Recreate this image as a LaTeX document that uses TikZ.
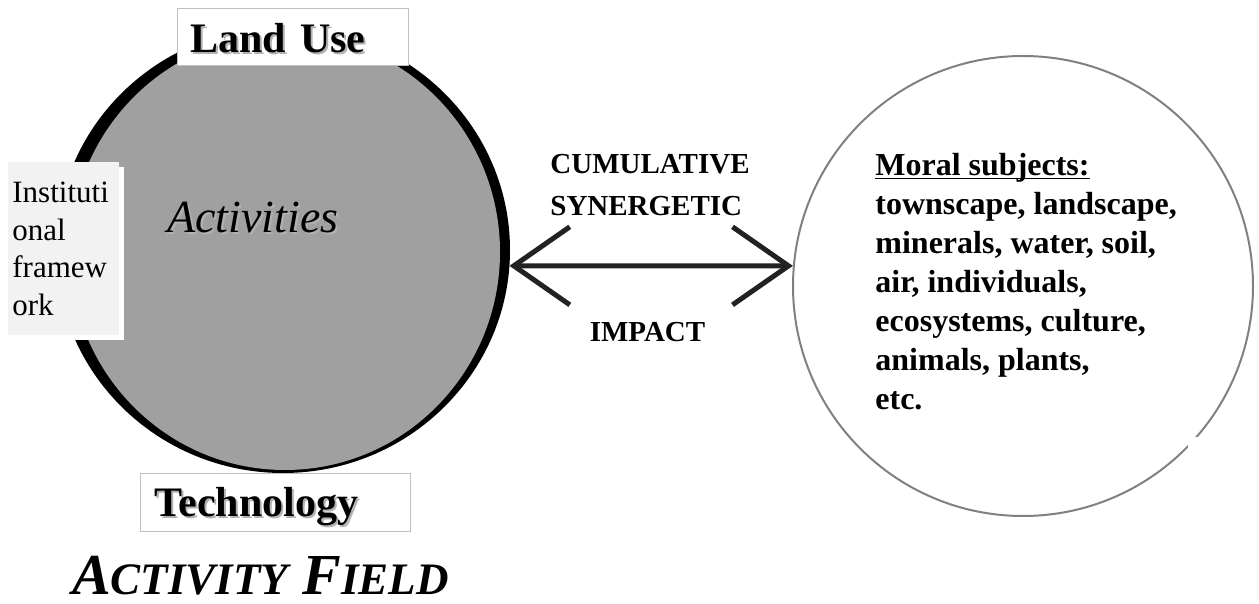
\documentclass[tikz,border=0pt]{standalone}
\usepackage{fontspec}
\setmainfont{Liberation Serif}
\usepackage{xcolor}
\usepackage{tikz}
\usetikzlibrary{shapes.geometric, positioning, arrows.meta, shadows}

\definecolor{activitygray}{RGB}{160,160,160}
\definecolor{boxline}{RGB}{192,192,192}
\definecolor{instfill}{RGB}{242,242,242}
\definecolor{moralline}{RGB}{128,128,128}
\definecolor{shadowgray}{RGB}{178,178,178}
\definecolor{arrowdark}{RGB}{34,34,34}

\newcommand{\shadowed}[1]{\rlap{\kern1pt\raisebox{-1pt}{\color{shadowgray}#1}}#1}
\newcommand{\fakesc}[2]{{\fontsize{29}{30}\selectfont #1}{\fontsize{22.5}{24}\selectfont #2}}

\begin{document}
\begin{tikzpicture}[
        x=0.5pt, y=-0.5pt,
        % Define styles for the circles, the boxes and the arrow
        ring/.style={fill=black, ellipse, inner sep=0pt, outer sep=0pt, minimum width=227pt, minimum height=223pt},
        field/.style={fill=activitygray, ellipse, inner sep=0pt, outer sep=0pt, minimum width=215pt, minimum height=218pt},
        labelbox/.style={draw=boxline, line width=0.5pt, fill=white, rectangle, align=left, text depth=0pt, font=\fontsize{21}{24}\selectfont\bfseries},
        instbox/.style={fill=instfill, rectangle, align=left, inner xsep=2pt, text width=51.5pt, minimum height=86.5pt, font=\fontsize{15.5}{18.75}\selectfont, drop shadow={fill=white, opacity=1, shadow xshift=2.5pt, shadow yshift=-2.5pt}},
        subjects/.style={draw=moralline, line width=1pt, circle, inner sep=0pt, minimum size=230pt},
        impact/.style={{Straight Barb[length=28pt, width=39pt]}-{Straight Barb[length=28pt, width=39pt]}, line width=2.5pt, draw=arrowdark},
        boldtext/.style={inner sep=0pt, align=left}
    ]
    \useasboundingbox (0,0) rectangle (1259,604);

    % Draw the activity field circle
    \node[ring] (ring) at (283,250) {};
    \node[field] (activity) at (285,252) {};
    \node[font=\fontsize{23}{26}\selectfont\itshape] (activities) at (253,218) {\shadowed{Activities}};

    % Draw the boxes around it
    \node[labelbox, anchor=west, minimum height=28.5pt, inner xsep=6.5pt, text width=102.5pt] (landuse) at (177,37.5) {\shadowed{Land Use}};
    \node[labelbox, anchor=west, minimum height=29pt, inner xsep=7pt, text width=121pt] (technology) at (140,502) {\shadowed{Technology}};
    \node[instbox, anchor=north west] (institutional) at (8,162) {Instituti\\onal\\framew\\ork};
    \node[anchor=base west, font=\fontsize{29}{30}\selectfont\bfseries\itshape] (fieldtitle) at (65,594) {\fakesc{A}{CTIVITY} \fakesc{F}{IELD}};

    % Draw the moral subjects circle
    \node[subjects] (moral) at (1023,286) {};
    \fill[white] (1188,437) rectangle (1206,448);
    \node[boldtext, anchor=north west, font=\fontsize{16}{19.5}\selectfont\bfseries] (subjectlist) at (875,175) {\underline{\smash{Moral subjects:}}\\townscape, landscape,\\minerals, water, soil,\\air, individuals,\\ecosystems, culture,\\animals, plants,\\etc.};

    % Draw the impact arrow and its labels
    \draw[impact] (ring.-4) -- (moral.175);
    \node[boldtext, anchor=north west, font=\fontsize{14.5}{21}\selectfont\bfseries] (kinds) at (550,154) {CUMULATIVE\\SYNERGETIC};
    \node[boldtext, font=\fontsize{14.5}{17}\selectfont\bfseries] (impactlabel) at (647.5,332) {IMPACT};

\end{tikzpicture}
\end{document}
